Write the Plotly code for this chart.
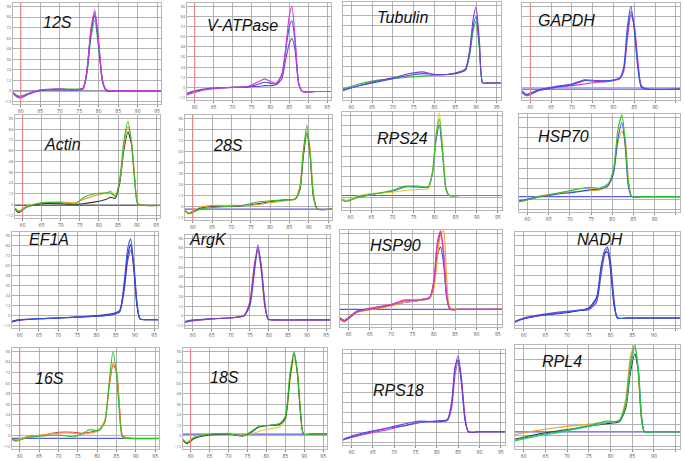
import plotly.graph_objects as go

W, H = 685, 461

# ---------------- data ----------------
gene_names = ["12S", "V-ATPase", "Tubulin", "GAPDH",
              "Actin", "28S", "RPS24", "HSP70",
              "EF1A", "ArgK", "HSP90", "NADH",
              "16S", "18S", "RPS18", "RPL4"]

x_12S = [58, 59, 60, 62, 65, 70, 74, 76, 77, 78, 79, 80, 81, 82, 85, 90, 96]
y_12S_magenta = [-2, -6, -7, -3, 1, 2, 1, 3, 25, 70, 92, 55, 12, 1, 0, 0, 0]
y_12S_blue = [-3, -7, -8, -4, 0, 2, 1, 2, 22, 66, 86, 52, 10, 0, 0, 0, 0]
y_12S_green = [-2, -5, -6, -3, 1, 2, 2, 3, 20, 60, 80, 48, 10, 1, 0, 0, 0]
y_12S_purple = [-2, -6, -7, -3, 1, 1, 1, 3, 24, 68, 89, 54, 11, 0, 0, 0, 0]

x_vatp = [58, 60, 64, 70, 74, 77, 78.5, 80, 81.5, 83, 84, 85, 85.7, 86.5, 87.5, 88.5, 92, 96]
y_vatp_magenta = [-9, -6, -2, 0, 1, 7, 10, 7, 5, 15, 45, 85, 96, 60, 5, -5, -5, -5]
y_vatp_blue = [-8, -5, -2, 0, 0, 4, 6, 5, 4, 14, 42, 72, 79, 55, 4, -5, -5, -5]
y_vatp_purple = [-7, -4, -1, 0, 1, 1, 2, 2, 3, 10, 32, 52, 58, 45, 3, -5, -5, -5]

x_tub = [58, 62, 66, 70, 74, 77, 80, 83, 86, 87.5, 88.5, 89.3, 90, 90.8, 91.6, 93, 96]
y_tub_purple = [-4, 2, 7, 11, 16, 18, 15, 15, 18, 22, 45, 80, 94, 55, 5, 5, 5]
y_tub_blue = [-3, 2, 6, 10, 14, 16, 15, 15, 17, 21, 42, 72, 83, 50, 5, 5, 5]
y_tub_green = [-2, 4, 8, 10, 12, 13, 14, 15, 17, 20, 38, 66, 77, 45, 5, 5, 5]

x_gapdh = [58, 59, 62, 66, 70, 73, 76, 79, 81.5, 82.5, 83.3, 84.2, 85, 85.8, 86.7, 88, 96]
y_gapdh_blue = [-6, -10, -4, 0, 3, 8, 7, 8, 11, 25, 70, 96, 68, 25, 0, -2, -2]
y_gapdh_purple = [-5, -9, -3, 1, 4, 9, 8, 8, 11, 22, 62, 90, 72, 30, 1, -2, -2]
y_gapdh_magenta = [-4, -8, -3, 0, 2, 4, 6, 7, 10, 20, 55, 86, 74, 35, 2, -2, -2]

x_actin = [58, 59, 61, 65, 70, 74, 76, 79, 82, 83, 84.3, 85.5, 86.5, 87.6, 88.5, 89.3, 90.2, 92, 96]
y_actin_green = [-4, -8, -3, 2, 2, 1, 8, 12, 13, 13, 9, 30, 70, 93, 70, 30, 0, -1, -1]
y_actin_orange = [-4, -7, -2, 2, 3, 2, 6, 10, 13, 15, 10, 28, 65, 87, 72, 35, 1, -1, -1]
y_actin_dark = [-5, -9, -3, 1, 1, 0, 1, 3, 6, 8, 7, 25, 60, 81, 68, 32, 1, -1, -1]

x_28S = [58, 59, 62, 66, 70, 74, 77, 80, 84, 86.5, 87.7, 88.6, 89.5, 90.3, 91.2, 92.2, 96]
y_28S_green = [-5, -8, -3, -1, 0, 2, 5, 6, 7, 8, 20, 60, 89, 60, 12, -3, -3]
y_28S_orange = [-4, -7, -1, 1, 1, 1, 2, 4, 6, 8, 22, 62, 82, 65, 15, -3, -3]
y_28S_dark = [-5, -8, -2, 0, 0, 1, 3, 5, 7, 8, 18, 55, 80, 58, 10, -3, -3]

x_rps24 = [58, 59, 62, 66, 70, 73, 76, 78.5, 79.5, 80.3, 81.1, 81.9, 82.7, 83.5, 86, 96]
y_rps24_green = [-3, -5, 0, 4, 8, 13, 13, 12, 30, 70, 92, 55, 10, 2, 2, 2]
y_rps24_blue = [-2, -4, 1, 4, 7, 12, 12, 12, 28, 65, 85, 50, 9, 2, 2, 2]
y_rps24_yellow = [-2, -4, 2, 5, 6, 8, 9, 10, 30, 72, 99, 58, 12, 2, 2, 2]

x_hsp70 = [58, 60, 63, 67, 71, 74.5, 77, 79, 80.3, 81.3, 82.3, 83.1, 83.8, 84.6, 87, 96]
y_hsp70_green = [-3, -1, 3, 7, 11, 14, 13, 18, 35, 80, 99, 65, 20, 3, 3, 3]
y_hsp70_orange = [-3, 0, 4, 7, 9, 10, 11, 15, 32, 65, 80, 70, 25, 3, 3, 3]
y_hsp70_blue = [-2, 0, 3, 6, 8, 11, 12, 16, 30, 70, 90, 60, 15, 3, 3, 3]

x_ef1a = [58, 60, 65, 70, 75, 80, 84, 86, 87.2, 88.1, 88.9, 89.7, 90.5, 91.3, 93, 96]
y_ef1a_blue = [-8, -5, -4, -3, -2, -1, 1, 5, 40, 80, 92, 60, 15, -4, -5, -5]
y_ef1a_navy = [-7, -5, -4, -3, -2, 0, 2, 6, 35, 72, 85, 55, 12, -4, -5, -5]
y_ef1a_purple = [-7, -6, -4, -3, -2, -1, 1, 4, 30, 65, 78, 62, 18, -4, -5, -5]

x_argk = [58, 60, 64, 68, 71, 73.5, 75, 76.2, 77.1, 78, 78.9, 79.8, 82, 88, 96]
y_argk_purple = [-8, -6, -4, -3, -2, 0, 15, 60, 88, 60, 15, -4, -5, -5, -5]
y_argk_red = [-7, -6, -4, -3, -2, 1, 18, 65, 80, 55, 12, -4, -5, -5, -5]
y_argk_blue = [-7, -5, -4, -3, -2, 0, 12, 55, 84, 62, 18, -4, -5, -5, -5]

x_hsp90 = [58, 59, 62, 66, 70, 73, 76, 79, 80, 80.8, 81.6, 82.3, 83, 83.8, 86, 96]
y_hsp90_magenta = [-6, -9, 3, 8, 12, 16, 17, 20, 40, 85, 99, 75, 25, 6, 6, 6]
y_hsp90_orange = [-5, -8, 2, 6, 10, 14, 16, 19, 30, 65, 95, 99, 45, 8, 6, 6]
y_hsp90_blue = [-4, -7, 4, 8, 11, 14, 16, 19, 35, 70, 80, 60, 20, 6, 6, 6]
y_hsp90_red = [-5, -8, 3, 7, 11, 17, 17, 20, 38, 80, 97, 70, 22, 6, 6, 6]

x_nadh = [58, 60, 64, 68, 72, 75, 76.8, 77.8, 78.6, 79.3, 80, 80.8, 81.6, 84, 96]
y_nadh_blue = [-8, -4, 0, 3, 6, 8, 20, 55, 78, 82, 60, 15, -3, -3, -3]
y_nadh_purple = [-7, -3, 1, 4, 6, 7, 16, 48, 72, 80, 65, 20, -3, -3, -3]
y_nadh_navy = [-8, -4, 0, 2, 5, 9, 22, 58, 75, 76, 55, 12, -3, -3, -3]

x_16S = [58, 59, 62, 66, 70, 74, 76, 78, 80.5, 82, 83.1, 84.1, 85, 85.8, 86.6, 89, 96]
y_16S_green = [-4, -6, -2, 0, 1, -1, 2, 7, 6, 15, 60, 96, 70, 25, -2, -3, -3]
y_16S_orange = [-4, -5, -1, 1, 3, 3, 2, 3, 6, 18, 58, 83, 72, 30, -1, -3, -3]
y_16S_red = [-3, -5, -1, 1, 4, 4, 3, 4, 7, 17, 55, 80, 74, 32, 0, -3, -3]

x_18S = [58, 59, 61, 65, 70, 74, 76, 78, 81, 83.5, 85, 86.2, 87.3, 88.2, 89, 89.8, 92, 96]
y_18S_dark = [-5, -9, -3, 1, 2, 0, 4, 10, 12, 13, 20, 65, 94, 70, 25, 2, 2, 2]
y_18S_green = [-4, -8, -2, 2, 2, 0, 5, 11, 12, 14, 22, 70, 96, 72, 28, 2, 2, 2]
y_18S_yellow = [-4, -7, -1, 2, 3, 2, 2, 5, 8, 10, 18, 60, 88, 75, 32, 3, 2, 2]

x_rps18 = [58, 60, 64, 68, 72, 76, 80, 82.5, 83.5, 84.3, 85, 85.8, 86.6, 87.4, 90, 96]
y_rps18_purple = [-9, -5, 0, 5, 10, 14, 13, 15, 35, 78, 93, 65, 18, 1, 1, 1]
y_rps18_blue = [-8, -4, 1, 5, 8, 12, 14, 16, 38, 80, 88, 58, 15, 1, 1, 1]
y_rps18_magenta = [-9, -6, -1, 3, 8, 13, 14, 15, 30, 70, 85, 62, 20, 1, 1, 1]

x_rpl4 = [58, 60, 64, 68, 72, 76, 79, 82, 83.5, 84.6, 85.6, 86.4, 87.1, 87.8, 90, 96]
y_rpl4_green = [-5, -3, 1, 4, 8, 12, 16, 16, 35, 80, 100, 70, 20, 4, 4, 4]
y_rpl4_orange = [1, 3, 6, 9, 11, 13, 15, 16, 40, 88, 100, 65, 18, 4, 4, 4]
y_rpl4_dark = [-4, -2, 2, 5, 8, 11, 13, 15, 30, 70, 90, 72, 22, 4, 4, 4]
y_rpl4_cyan = [-6, -4, 0, 3, 7, 11, 14, 17, 33, 75, 97, 75, 25, 4, 4, 4]

# baseline (threshold) level of each panel, None = no line drawn
baseline_levels = [0, None, None, -2, -1, -3, 2, 3, None, None, 6, None, -3, 2, None, 4]
# start-of-run marker (red vertical line), None = not shown
start_marker = [60, 60, None, 60, 60, 60, None, None, None, None, None, None, 60, 60, None, None]
x_tick_vals = [60, 65, 70, 75, 80, 85, 90, 95]
x_tick_text = ["60", "65", "70", "75", "80", "85", "90", "95"]
x_tick_text_edge = ["60", "65", "70", "75", "80", "85", "90", ""]

# ---------------- styling ----------------
C = {"magenta": "#d63ad6", "purple": "#7b3fd0", "blue": "#3558e0", "green": "#2fbf2f",
     "orange": "#f0a020", "red": "#e83a3a", "dark": "#3a3a3a", "yellow": "#d6cf2a",
     "cyan": "#22c4c4", "navy": "#2a2aa0"}

panels_data = [
    (x_12S, [(y_12S_green, "green"), (y_12S_blue, "blue"), (y_12S_purple, "purple"), (y_12S_magenta, "magenta")]),
    (x_vatp, [(y_vatp_purple, "purple"), (y_vatp_blue, "blue"), (y_vatp_magenta, "magenta")]),
    (x_tub, [(y_tub_green, "green"), (y_tub_blue, "blue"), (y_tub_purple, "purple")]),
    (x_gapdh, [(y_gapdh_magenta, "magenta"), (y_gapdh_purple, "purple"), (y_gapdh_blue, "blue")]),
    (x_actin, [(y_actin_dark, "dark"), (y_actin_orange, "orange"), (y_actin_green, "green")]),
    (x_28S, [(y_28S_dark, "dark"), (y_28S_orange, "orange"), (y_28S_green, "green")]),
    (x_rps24, [(y_rps24_blue, "blue"), (y_rps24_yellow, "yellow"), (y_rps24_green, "green")]),
    (x_hsp70, [(y_hsp70_orange, "orange"), (y_hsp70_blue, "blue"), (y_hsp70_green, "green")]),
    (x_ef1a, [(y_ef1a_purple, "purple"), (y_ef1a_navy, "navy"), (y_ef1a_blue, "blue")]),
    (x_argk, [(y_argk_red, "red"), (y_argk_blue, "blue"), (y_argk_purple, "purple")]),
    (x_hsp90, [(y_hsp90_blue, "blue"), (y_hsp90_orange, "orange"), (y_hsp90_red, "red"), (y_hsp90_magenta, "magenta")]),
    (x_nadh, [(y_nadh_purple, "purple"), (y_nadh_navy, "navy"), (y_nadh_blue, "blue")]),
    (x_16S, [(y_16S_red, "red"), (y_16S_orange, "orange"), (y_16S_green, "green")]),
    (x_18S, [(y_18S_yellow, "yellow"), (y_18S_dark, "dark"), (y_18S_green, "green")]),
    (x_rps18, [(y_rps18_magenta, "magenta"), (y_rps18_blue, "blue"), (y_rps18_purple, "purple")]),
    (x_rpl4, [(y_rpl4_orange, "orange"), (y_rpl4_dark, "dark"), (y_rpl4_cyan, "cyan"), (y_rpl4_green, "green")]),
]

# plot-area boxes in pixels: (left, top, right, bottom)
boxes = [
    (13, 3, 161, 104), (187, 3, 331, 100), (343, 2, 501, 100), (522, 3, 680, 100),
    (15, 115, 160, 218), (185, 115, 332, 220), (342, 112, 502, 210), (519, 114, 680, 212),
    (12, 232, 158, 328), (185, 235, 330, 328), (340, 230, 502, 327), (515, 232, 680, 328),
    (12, 348, 159, 449), (183, 348, 327, 449), (343, 350, 505, 445), (515, 345, 680, 449),
]
label_pos = [
    (57, 22), (243, 25), (402, 17), (566, 21),
    (62, 145), (228, 146), (402, 138), (563, 136),
    (49, 239), (208, 240), (395, 246), (600, 240),
    (50, 378), (224, 377), (398, 390), (562, 361),
]

fig = go.Figure()
layout = dict(width=W, height=H, margin=dict(l=0, r=0, t=0, b=0),
              paper_bgcolor="white", plot_bgcolor="white", showlegend=False)
shapes, annotations = [], []

for i, (xs, series) in enumerate(panels_data):
    n = i + 1
    xa = "x" if n == 1 else f"x{n}"
    ya = "y" if n == 1 else f"y{n}"
    l, t, r, b = boxes[i]
    for ys, cname in series:
        fig.add_trace(go.Scatter(x=xs, y=ys, mode="lines", xaxis=xa, yaxis=ya,
                                 line=dict(color=C[cname], width=1.1, shape="spline", smoothing=0.6),
                                 hoverinfo="skip"))
    layout[f"xaxis{'' if n == 1 else n}"] = dict(
        domain=[l / W, r / W], anchor=ya, range=[58, 96],
        tickvals=x_tick_vals, ticktext=(x_tick_text_edge if i % 4 == 3 else x_tick_text),
        ticks="outside", ticklen=2,
        tickcolor="#888", tickfont=dict(size=5, color="#555"),
        showgrid=True, gridcolor="#a0a0a0", gridwidth=0.8,
        showline=True, linecolor="#b8b8b8", linewidth=1, zeroline=False, mirror=True)
    layout[f"yaxis{'' if n == 1 else n}"] = dict(
        domain=[1 - b / H, 1 - t / H], anchor=xa, range=[-15, 100],
        tick0=0, dtick=12, showticklabels=(i % 4 in (0, 1)), ticks="",
        tickfont=dict(size=4, color="#666"),
        showgrid=True, gridcolor="#a0a0a0", gridwidth=0.8,
        showline=True, linecolor="#b8b8b8", linewidth=1, zeroline=False, mirror=True)
    if baseline_levels[i] is not None:
        shapes.append(dict(type="line", xref=xa, yref=ya, x0=58, x1=96,
                           y0=baseline_levels[i], y1=baseline_levels[i],
                           line=dict(color="#5a5ae6", width=1.2), layer="below"))
    if start_marker[i] is not None:
        shapes.append(dict(type="line", xref=xa, yref=f"{ya} domain", x0=start_marker[i], x1=start_marker[i],
                           y0=0, y1=1, line=dict(color="#f08080", width=1)))
    cx, cy = label_pos[i]
    annotations.append(dict(x=cx / W, y=1 - cy / H, xref="paper", yref="paper",
                            text=f"<i>{gene_names[i]}</i>", showarrow=False,
                            font=dict(family="Liberation Sans, Arial, sans-serif", size=16, color="#111"),
                            xanchor="center", yanchor="middle"))

layout["shapes"] = shapes
layout["annotations"] = annotations
fig.update_layout(**layout)
fig.write_html("out.html", config={"displayModeBar": False, "staticPlot": True},
               post_script="document.body.style.margin='0';document.body.style.overflow='hidden';")
